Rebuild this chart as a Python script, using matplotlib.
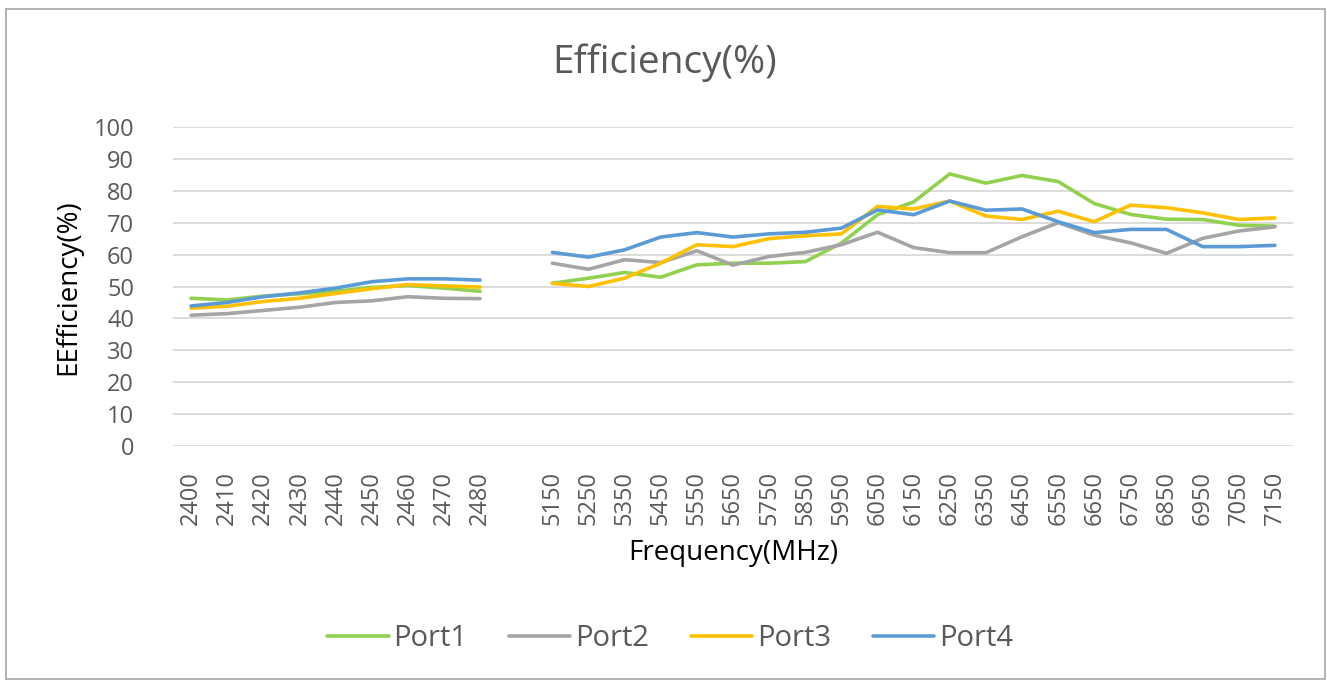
import numpy as np
import matplotlib
matplotlib.use("Agg")
import matplotlib.pyplot as plt
from matplotlib.patches import Rectangle

nan = np.nan
categories = ['2400', '2410', '2420', '2430', '2440', '2450', '2460', '2470', '2480', '',
              '5150', '5250', '5350', '5450', '5550', '5650', '5750', '5850', '5950', '6050',
              '6150', '6250', '6350', '6450', '6550', '6650', '6750', '6850', '6950', '7050', '7150']

port1 = [46.3, 45.8, 47.0, 47.7, 48.5, 49.7, 50.3, 49.5, 48.5, nan,
         51.0, 52.6, 54.4, 52.9, 56.8, 57.3, 57.3, 57.8, 63.6, 72.5,
         76.5, 85.3, 82.4, 84.8, 82.9, 76.0, 72.6, 71.1, 71.0, 69.2, 68.9]
port2 = [41.0, 41.5, 42.5, 43.5, 45.0, 45.5, 46.8, 46.3, 46.2, nan,
         57.3, 55.4, 58.4, 57.5, 61.2, 56.7, 59.4, 60.7, 63.1, 67.0,
         62.2, 60.6, 60.6, 65.6, 70.0, 66.1, 63.7, 60.4, 65.1, 67.4, 68.7]
port3 = [43.2, 43.8, 45.3, 46.3, 47.8, 49.3, 50.6, 50.2, 49.8, nan,
         51.0, 50.0, 52.6, 57.3, 63.1, 62.5, 65.0, 65.9, 66.5, 75.1,
         74.3, 76.8, 72.1, 71.0, 73.6, 70.3, 75.5, 74.7, 73.1, 71.0, 71.5]
port4 = [43.9, 45.0, 46.8, 48.0, 49.5, 51.5, 52.4, 52.4, 52.0, nan,
         60.7, 59.2, 61.5, 65.5, 66.9, 65.5, 66.5, 67.0, 68.3, 74.0,
         72.5, 76.8, 73.9, 74.3, 70.3, 66.9, 67.9, 67.9, 62.5, 62.5, 62.9]

series = [("Port1", port1, "#92D050"), ("Port2", port2, "#A5A5A5"),
          ("Port3", port3, "#FFC000"), ("Port4", port4, "#5B9BD5")]

plt.rcParams['font.family'] = ['Open Sans', 'DejaVu Sans']
txt = "#595959"

fig = plt.figure(figsize=(13.27, 6.8), dpi=100)
fig.patches.append(Rectangle((6/1327, 1/680), 1319/1327, 670/680, transform=fig.transFigure,
                             fill=False, edgecolor="#A6A6A6", linewidth=1.2))
ax = fig.add_axes([173/1327, 1 - 446/680, (1293 - 173)/1327, (446 - 127)/680])

x = np.arange(len(categories))
for name, vals, col in series:
    ax.plot(x, vals, color=col, linewidth=2.6, label=name, solid_capstyle='round')

ax.set_xlim(-0.5, len(categories) - 0.5)
ax.set_ylim(0, 100)
ax.set_yticks(np.arange(0, 101, 10))
ax.set_xticks(x)
ax.set_xticklabels(categories, rotation=90)
ax.tick_params(axis='both', length=0, labelsize=17, labelcolor=txt)
ax.tick_params(axis='y', pad=28)
ax.tick_params(axis='x', pad=18)
ax.grid(axis='y', color="#D9D9D9", linewidth=1.3)
ax.set_axisbelow(True)
for s in ax.spines.values():
    s.set_visible(False)

fig.text(665/1327, 1 - 63/680, "Efficiency(%)", ha='center', va='center', fontsize=28, color=txt)
fig.text(68/1327, 1 - 287/680, "EEfficiency(%)", ha='center', va='center', rotation=90,
         fontsize=20, color="black")
fig.text(733/1327, 1 - 553/680, "Frequency(MHz)", ha='center', va='center', fontsize=20, color="black")

fig.legend(loc='center', bbox_to_anchor=(670/1327, 1 - 639/680), ncol=4, frameon=False,
           fontsize=21, handlelength=2.1, handletextpad=0.15, columnspacing=1.45, labelcolor=txt)

fig.savefig("out.png", dpi=100)
